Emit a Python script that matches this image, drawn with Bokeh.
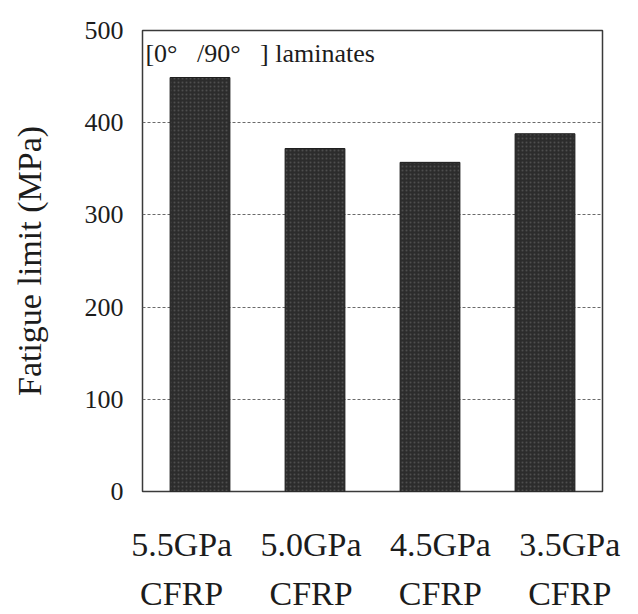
from bokeh.plotting import figure
from bokeh.models import Range1d, FixedTicker, LinearAxis, Label
from bokeh.embed import file_html
from bokeh.resources import INLINE

# ---- data ----
categories = ["5.5GPa CFRP", "5.0GPa CFRP", "4.5GPa CFRP", "3.5GPa CFRP"]
row1_labels = ["5.5GPa", "5.0GPa", "4.5GPa", "3.5GPa"]
row2_labels = ["CFRP", "CFRP", "CFRP", "CFRP"]
fatigue_limit = [449, 372, 357, 388]
y_ticks = [0, 100, 200, 300, 400, 500]
grid_ticks = [100, 200, 300, 400]
annotation = "[0°\u00a0\u00a0\u00a0/90°\u00a0\u00a0\u00a0] laminates"
panel_tag = "B)"

SERIF = "'Liberation Serif', 'Times New Roman', serif"
INK = "#1c1c1c"

idx = list(range(len(categories)))

p = figure(
    width=638, height=614,
    x_range=Range1d(-0.5, len(categories) - 0.5),
    y_range=Range1d(0, 500),
    x_axis_location=None,
    output_backend="svg", toolbar_location=None,
    min_border_left=142, min_border_right=36,
    min_border_top=30, min_border_bottom=121,
)
p.background_fill_color = "white"
p.border_fill_color = "white"
p.outline_line_color = "#3a3a3a"
p.outline_line_width = 1.5

p.vbar(x=idx, top=fatigue_limit, width=0.52,
       fill_color="#2c2c2c", line_color="#1e1e1e", line_width=1,
       hatch_pattern="dot", hatch_color="#4e4e4e", hatch_scale=4, hatch_weight=1)

# grid
p.xgrid.visible = False
p.ygrid.ticker = FixedTicker(ticks=grid_ticks)
p.ygrid.grid_line_color = "#6a6a6a"
p.ygrid.grid_line_dash = "3 2"
p.ygrid.grid_line_width = 1

# y axis
ya = p.yaxis[0]
ya.ticker = FixedTicker(ticks=y_ticks)
ya.axis_line_color = None
ya.major_tick_line_color = None
ya.minor_tick_line_color = None
ya.major_label_standoff = 13
ya.major_label_text_font = SERIF
ya.major_label_text_font_size = "26px"
ya.major_label_text_color = INK
ya.axis_label = "Fatigue limit (MPa)"
ya.axis_label_text_font = SERIF
ya.axis_label_text_font_size = "34px"
ya.axis_label_text_font_style = "normal"
ya.axis_label_text_color = INK
ya.axis_label_standoff = 34

# category labels (two rows), on their own label scale
p.extra_x_ranges = {"lab": Range1d(-0.303, 3.253)}
for labels, standoff in ((row1_labels, 28), (row2_labels, 3)):
    ax = LinearAxis(x_range_name="lab", ticker=FixedTicker(ticks=idx),
                    major_label_overrides={i: labels[i] for i in idx})
    ax.axis_line_color = None
    ax.major_tick_line_color = None
    ax.minor_tick_line_color = None
    ax.major_label_standoff = standoff
    ax.major_label_text_font = SERIF
    ax.major_label_text_font_size = "34px"
    ax.major_label_text_color = INK
    p.add_layout(ax, "below")

p.add_layout(Label(x=-0.475, y=475, text=annotation, text_font=SERIF,
                   text_font_size="26px", text_color=INK,
                   text_baseline="alphabetic"))
p.add_layout(Label(x=-1.29, y=519, text=panel_tag, text_font="Lato",
                   text_font_size="22px", text_color=INK,
                   text_baseline="alphabetic"))

open("out.html", "w").write(file_html(p, INLINE))
